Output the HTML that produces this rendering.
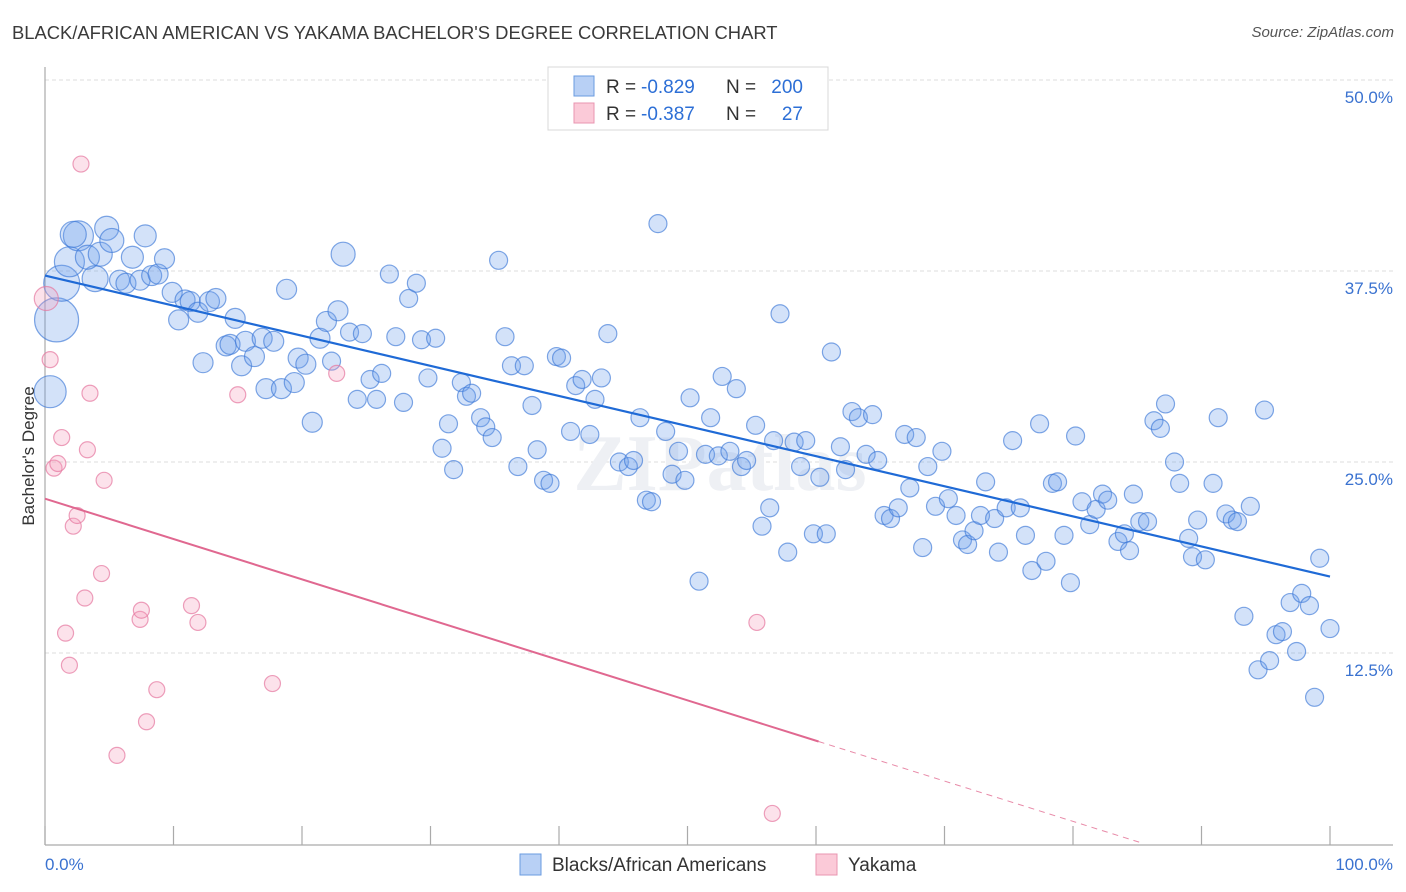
<!DOCTYPE html>
<html><head><meta charset="utf-8">
<style>
body{margin:0;background:#fff;font-family:"Liberation Sans",sans-serif;}
#wrap{position:relative;width:1406px;height:892px;overflow:hidden;}
.title{position:absolute;left:12px;top:22px;font-size:18.4px;color:#3a3a3a;}
.source{position:absolute;right:12px;top:24px;font-size:15px;color:#555;font-style:italic;}
</style></head>
<body>
<div id="wrap">
<div class="title">BLACK/AFRICAN AMERICAN VS YAKAMA BACHELOR'S DEGREE CORRELATION CHART</div>
<div class="source">Source: ZipAtlas.com</div>
<svg id="chart" width="1406" height="892" style="position:absolute;left:0;top:0"></svg>
</div>
<script>
const yTicks=[12.5,25,37.5,50];
const yTickLabels=["12.5%","25.0%","37.5%","50.0%"];
const xTickCount=10;
const blueX=[0.9,0.4,1.3,1.9,2.6,2.2,3.9,3.3,4.3,4.8,5.2,6.8,7.8,5.8,6.3,7.4,8.3,8.8,9.3,9.9,10.4,10.9,11.3,11.9,12.8,13.3,14.8,14.1,14.4,12.3,15.3,15.6,16.3,16.9,17.8,17.2,18.4,18.8,19.4,19.7,20.3,20.8,21.4,21.9,22.8,23.2,22.3,23.7,24.7,24.3,25.3,25.8,26.2,26.8,27.3,27.9,28.3,28.9,29.3,29.8,30.4,30.9,31.4,31.8,32.4,32.8,33.2,33.9,34.3,34.8,35.3,35.8,36.3,36.8,37.3,37.9,38.3,38.8,39.3,39.8,40.2,40.9,41.3,41.8,42.4,42.8,43.3,43.8,44.7,45.4,45.8,46.3,46.8,47.2,47.7,48.3,48.8,49.3,49.8,50.2,50.9,51.4,51.8,52.4,52.7,53.3,53.8,54.2,54.6,55.3,55.8,56.4,56.7,57.2,57.8,58.3,58.8,59.2,59.8,60.3,60.8,61.2,61.9,62.3,62.8,63.3,63.9,64.4,64.8,65.3,65.8,66.4,66.9,67.3,67.8,68.3,68.7,69.3,69.8,70.3,70.9,71.4,71.8,72.3,72.8,73.2,73.9,74.2,74.8,75.3,75.9,76.3,76.8,77.4,77.9,78.4,78.8,79.3,79.8,80.2,80.7,81.3,81.8,82.3,82.7,83.5,84.0,84.4,84.7,85.2,85.8,86.3,86.8,87.2,87.9,88.3,89.0,89.3,89.7,90.3,90.9,91.3,91.9,92.4,92.8,93.3,93.8,94.4,94.9,95.3,95.8,96.3,96.9,97.4,97.8,98.4,98.8,99.2,100];
const blueY=[34.3,29.6,36.7,38.1,39.8,39.9,37.0,38.4,38.6,40.3,39.5,38.4,39.8,36.9,36.7,36.9,37.2,37.3,38.3,36.1,34.3,35.6,35.5,34.8,35.5,35.7,34.4,32.6,32.7,31.5,31.3,32.9,31.9,33.1,32.9,29.8,29.8,36.3,30.2,31.8,31.4,27.6,33.1,34.2,34.9,38.6,31.6,33.5,33.4,29.1,30.4,29.1,30.8,37.3,33.2,28.9,35.7,36.7,33.0,30.5,33.1,25.9,27.5,24.5,30.2,29.3,29.5,27.9,27.3,26.6,38.2,33.2,31.3,24.7,31.3,28.7,25.8,23.8,23.6,31.9,31.8,27.0,30.0,30.4,26.8,29.1,30.5,33.4,25.0,24.7,25.1,27.9,22.5,22.4,40.6,27.0,24.2,25.7,23.8,29.2,17.2,25.5,27.9,25.4,30.6,25.7,29.8,24.7,25.1,27.4,20.8,22.0,26.4,34.7,19.1,26.3,24.7,26.4,20.3,24.0,20.3,32.2,26.0,24.5,28.3,27.9,25.5,28.1,25.1,21.5,21.3,22.0,26.8,23.3,26.6,19.4,24.7,22.1,25.7,22.6,21.5,19.9,19.6,20.5,21.5,23.7,21.3,19.1,22.0,26.4,22.0,20.2,17.9,27.5,18.5,23.6,23.7,20.2,17.1,26.7,22.4,20.9,21.9,22.9,22.5,19.8,20.3,19.2,22.9,21.1,21.1,27.7,27.2,28.8,25.0,23.6,20.0,18.8,21.2,18.6,23.6,27.9,21.6,21.2,21.1,14.9,22.1,11.4,28.4,12.0,13.7,13.9,15.8,12.6,16.4,15.6,9.6,18.7,14.1];
const blueR=[22,16,18,15,15,13,13,12,12,12,12,11,11,10,10,10,10,10,10,10,10,10,10,10,10,10,10,10,10,10,10,10,10,10,10,10,10,10,10,10,10,10,10,10,10,12];
const pinkX=[0.1,0.4,0.7,1.0,1.3,1.6,1.9,2.2,2.5,2.8,3.1,3.3,3.5,4.4,4.6,5.6,7.4,7.5,7.9,8.7,11.4,11.9,15.0,17.7,22.7,55.4,56.6];
const pinkY=[35.7,31.7,24.6,24.9,26.6,13.8,11.7,20.8,21.5,44.5,16.1,25.8,29.5,17.7,23.8,5.8,14.7,15.3,8.0,10.1,15.6,14.5,29.4,10.5,30.8,14.5,2.0];
const blueTrend=[37.2,17.5];
const pinkTrend=[22.6,-0.264];
const pinkSolidEnd=60.2, pinkDashEnd=85.2;

const NS="http://www.w3.org/2000/svg";
const svg=document.getElementById('chart');
const X0=45,X1=1330,Y0=844,Y50=80;
const sx=v=>X0+(X1-X0)*v/100;
const sy=v=>Y0-(Y0-Y50)*v/50;
function mk(t,a,p){const e=document.createElementNS(NS,t);for(const k in a)e.setAttribute(k,a[k]);(p||svg).appendChild(e);return e;}

yTicks.forEach((t,i)=>{
 const g=mk('line',{x1:X0,x2:1393,y1:sy(t),y2:sy(t),stroke:'#dcdcdc','stroke-dasharray':'4,3','stroke-width':1});
 
 
 const l=mk('text',{x:1393,y:sy(t)+23,'text-anchor':'end','font-size':17,fill:'#3a72d0','font-family':'Liberation Sans, sans-serif'});
 l.textContent=yTickLabels[i];
 
 
});
const ax=mk('line',{x1:X0,x2:X0,y1:67,y2:Y0+1,stroke:'#aaa','stroke-width':1.2});


const bx=mk('line',{x1:X0,x2:1393,y1:Y0+1,y2:Y0+1,stroke:'#aaa','stroke-width':1.2});


for(let i=0;i<=xTickCount;i++){
 const t=mk('line',{x1:sx(i*10),x2:sx(i*10),y1:826,y2:Y0+1,stroke:'#aaa','stroke-width':1.2});
 
 
}
const wm=mk('text',{x:720,y:490,'text-anchor':'middle','font-size':80,fill:'#eef0f4','font-family':'Liberation Serif, serif','font-weight':'bold'});
wm.textContent='ZIPatlas';



blueX.forEach((x,i)=>{
 const c=mk('circle',{cx:sx(x),cy:sy(blueY[i]),r:blueR[i]||9,fill:'rgba(110,160,235,0.3)',stroke:'rgba(60,120,215,0.65)','stroke-width':1.2});
 
 
});
pinkX.forEach((x,i)=>{
 const c=mk('circle',{cx:sx(x),cy:sy(pinkY[i]),r:i==0?12:8,fill:'rgba(245,160,190,0.3)',stroke:'rgba(230,120,160,0.7)','stroke-width':1.2});
 
 
});
const bl=mk('line',{x1:sx(0),y1:sy(blueTrend[0]),x2:sx(100),y2:sy(blueTrend[1]),stroke:'#1f6ad6','stroke-width':2.2});


const pl=mk('line',{x1:sx(0),y1:sy(pinkTrend[0]),x2:sx(pinkSolidEnd),y2:sy(pinkTrend[0]+pinkTrend[1]*pinkSolidEnd),stroke:'#e06890','stroke-width':2});


const pd=mk('line',{x1:sx(pinkSolidEnd),y1:sy(pinkTrend[0]+pinkTrend[1]*pinkSolidEnd),x2:sx(pinkDashEnd),y2:sy(pinkTrend[0]+pinkTrend[1]*pinkDashEnd),stroke:'#e88aa8','stroke-width':1,'stroke-dasharray':'6,5'});



const yl=mk('text',{x:0,y:0,transform:'translate(34,456) rotate(-90)','text-anchor':'middle','font-size':17,fill:'#333','font-family':'Liberation Sans, sans-serif'});
yl.textContent="Bachelor's Degree";


const x0l=mk('text',{x:45,y:870,'font-size':17,fill:'#3a72d0','font-family':'Liberation Sans, sans-serif'});
x0l.textContent='0.0%';


const x1l=mk('text',{x:1393,y:870,'text-anchor':'end','font-size':17,fill:'#3a72d0','font-family':'Liberation Sans, sans-serif'});
x1l.textContent='100.0%';



// top legend
const lb=mk('rect',{x:548,y:67,width:280,height:63,fill:'#fff',stroke:'#d8d8d8'});


[['#b8d0f5','#6a9be0','-0.829','200'],['#fbcad8','#e895b0','-0.387','27']].forEach((r,i)=>{
 const y=86+i*27;
 const s=mk('rect',{x:574,y:y-10,width:20,height:20,fill:r[0],stroke:r[1]});
 
 
 const f={'font-size':19,'font-family':'Liberation Sans, sans-serif'};
 const a=mk('text',Object.assign({x:606,y:y+7,fill:'#333'},f)); a.textContent='R =';
 
 
 const b=mk('text',Object.assign({x:641,y:y+7,fill:'#2d6fd6'},f)); b.textContent=r[2];
 
 
 const c=mk('text',Object.assign({x:726,y:y+7,fill:'#333'},f)); c.textContent='N =';
 
 
 const d=mk('text',Object.assign({x:803,y:y+7,fill:'#2d6fd6','text-anchor':'end'},f)); d.textContent=r[3];
 
 
});
// bottom legend
[[520,'#b8d0f5','#6a9be0','Blacks/African Americans'],[816,'#fbcad8','#e895b0','Yakama']].forEach(r=>{
 const s=mk('rect',{x:r[0],y:854,width:21,height:21,fill:r[1],stroke:r[2]});
 
 
 const t=mk('text',{x:r[0]+32,y:871,'font-size':19,fill:'#333','font-family':'Liberation Sans, sans-serif'});
 t.textContent=r[3];
 
 
});
</script>
</body></html>
